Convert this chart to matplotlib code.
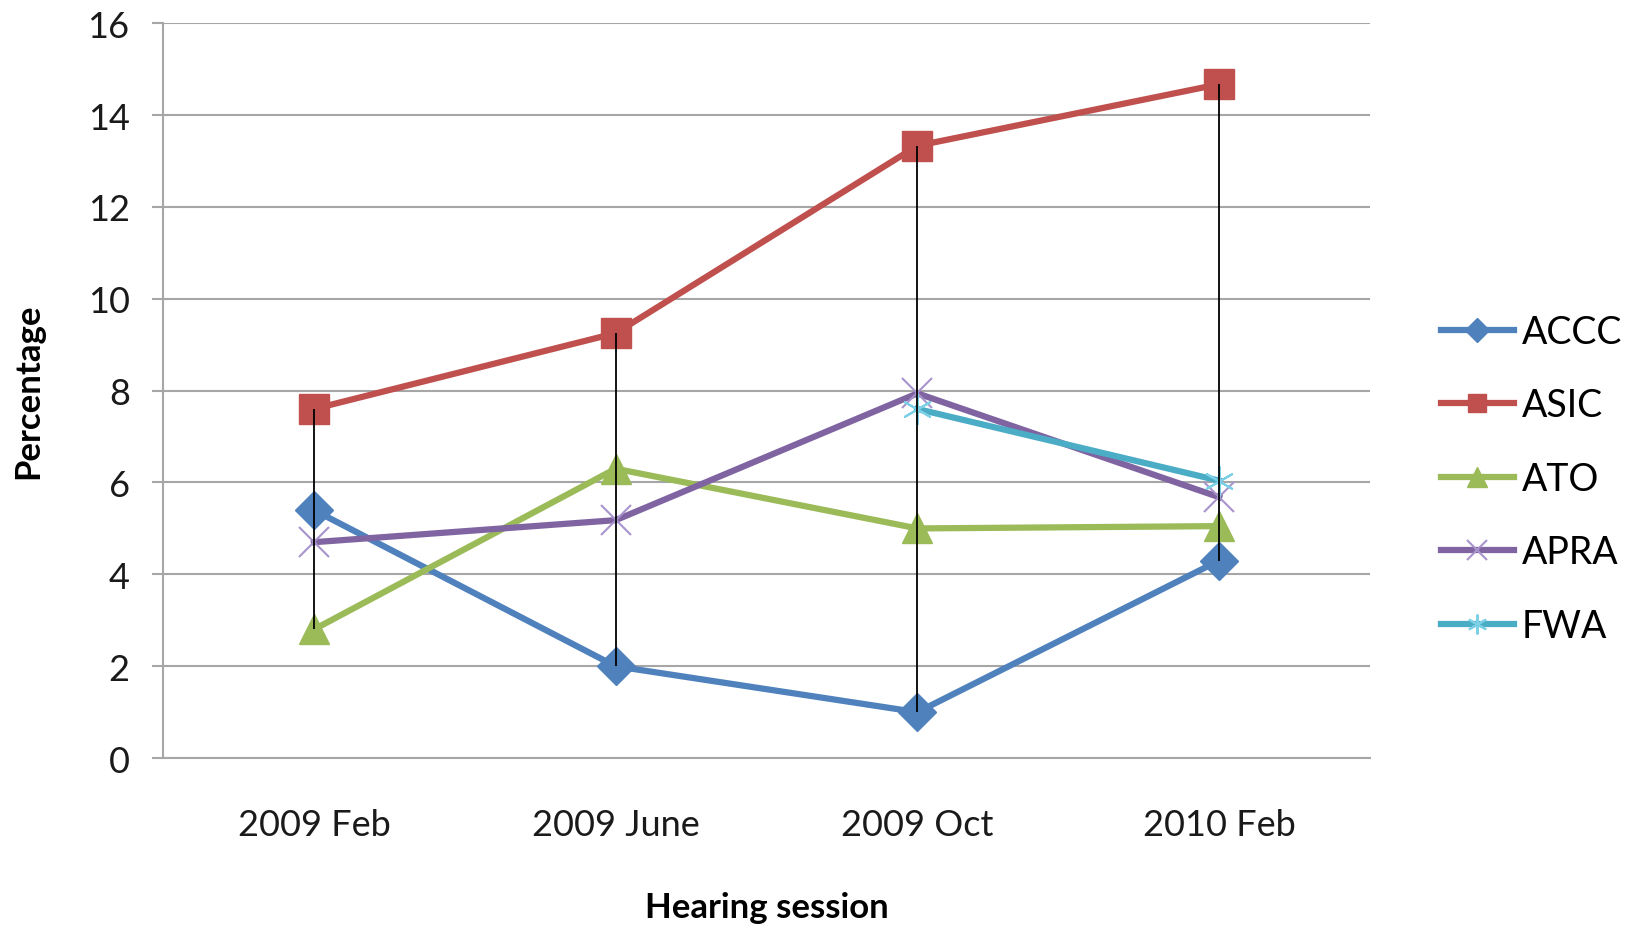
import numpy as np
import matplotlib.pyplot as plt

sessions = ["2009 Feb", "2009 June", "2009 Oct", "2010 Feb"]
accc = [5.4, 2.0, 1.0, 4.3]
asic = [7.6, 9.25, 13.33, 14.67]
ato = [2.8, 6.3, 5.0, 5.05]
apra = [4.7, 5.18, 7.94, 5.68]
fwa = [np.nan, np.nan, 7.6, 6.04]

plt.rcParams['font.family'] = ['Lato', 'DejaVu Sans']

fig = plt.figure(figsize=(16.3, 9.28), dpi=100)
ax = fig.add_axes([0.100, 0.182, 0.7405, 0.792])

x = np.arange(len(sessions))

ax.plot(x, accc, color="#4F81BD", lw=4.5, marker="D", ms=19, label="ACCC", zorder=3)
ax.plot(x, asic, color="#C0504D", lw=4.5, marker="s", ms=21, label="ASIC", zorder=3)
ax.plot(x, ato, color="#9BBB59", lw=4.5, marker="^", ms=22, label="ATO", zorder=3)
ax.plot(x, apra, color="#8064A2", lw=4.5, marker="x", ms=22, mec="#A894CC", mew=1.5,
        label="APRA", zorder=3)
ax.plot(x, fwa, color="#4BACC6", lw=4.5, marker=(6, 2, 0), ms=22, mec="#7CD0E6", mew=1.5,
        label="FWA", zorder=3)

# high-low lines
allv = np.array([accc, asic, ato, apra, fwa])
ax.vlines(x, np.nanmin(allv, axis=0), np.nanmax(allv, axis=0), color="black", lw=1.3, zorder=4)

ax.set_xlim(-0.5, 3.5)
ax.set_ylim(0, 16)
ax.set_yticks(range(0, 17, 2))
ax.set_xticks(x)
ax.set_xticklabels(sessions)
ax.grid(axis="y", color="#A6A6A6", lw=1.5)
ax.set_axisbelow(True)
for s in ["top", "right"]:
    ax.spines[s].set_visible(False)
ax.spines["left"].set_color("#A6A6A6")
ax.spines["left"].set_linewidth(1.5)
ax.spines["bottom"].set_color("#A6A6A6")
ax.spines["bottom"].set_linewidth(1.5)
ax.tick_params(axis="y", length=8, width=1.5, color="#A6A6A6", pad=16, labelsize=26,
               labelcolor="#1a1a1a")
ax.tick_params(axis="x", length=0, pad=36, labelsize=26, labelcolor="#1a1a1a")

ax.set_xlabel("Hearing session", fontsize=25, fontweight="bold", labelpad=36)
ax.set_ylabel("Percentage", fontsize=25, fontweight="bold", labelpad=31)

fig.legend(loc="center left", bbox_to_anchor=(0.884, 0.483), frameon=False,
           fontsize=27, handlelength=1.95, handletextpad=0.2, labelspacing=1.0,
           borderpad=0, borderaxespad=0, markerscale=0.65)

fig.savefig("out.png", dpi=100)
